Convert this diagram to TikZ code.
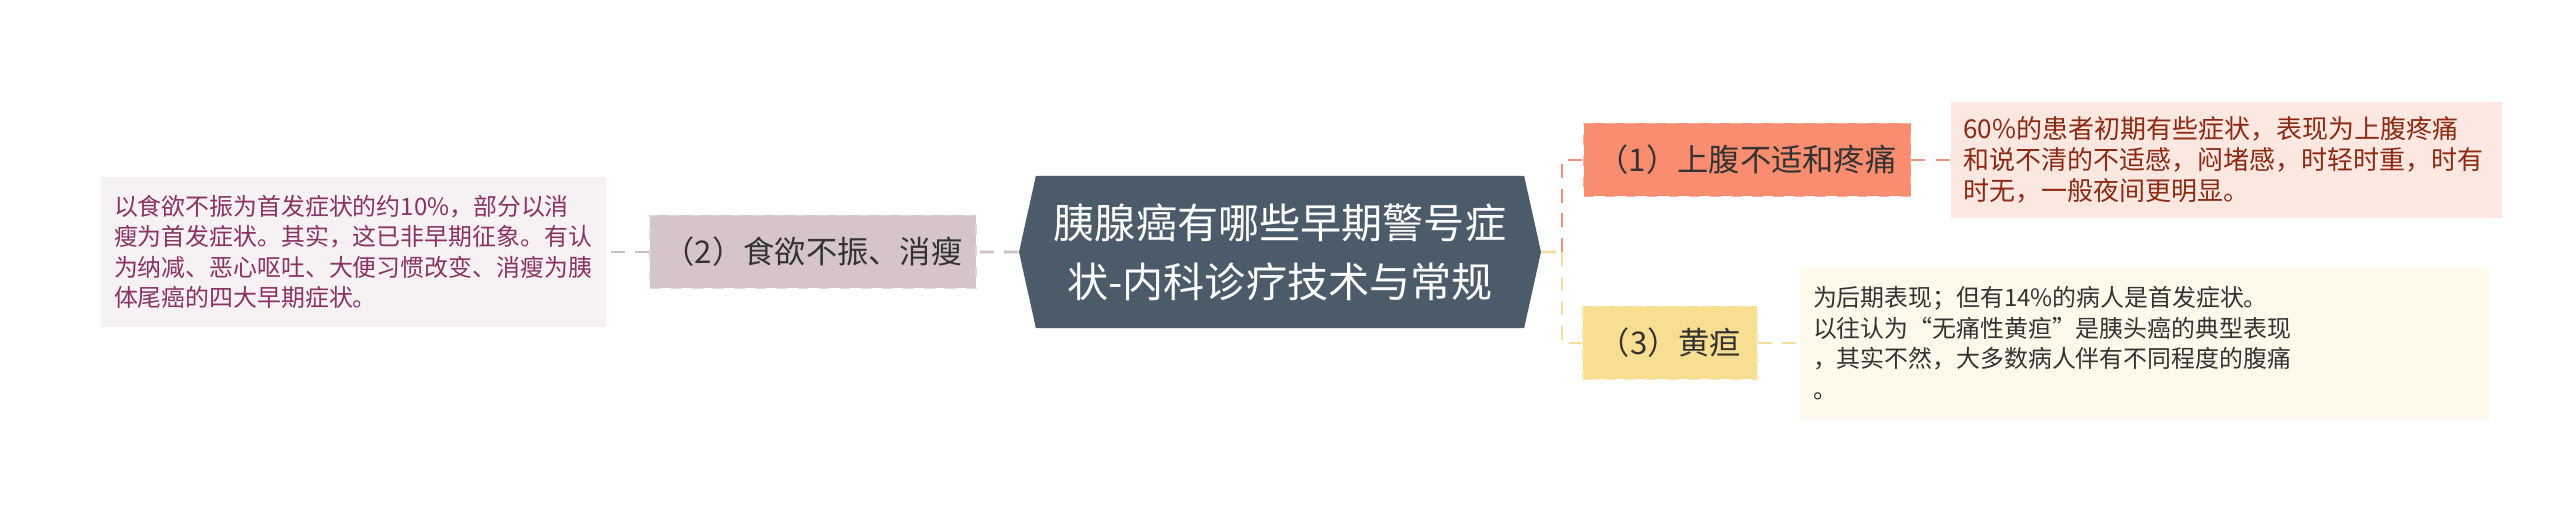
\documentclass[tikz,border=0pt]{standalone}
\usepackage{fontspec}
\setmainfont{Noto Sans CJK SC}
\usepackage{xcolor}
\usepackage{tikz}
\usetikzlibrary{positioning}
\usetikzlibrary{shapes.symbols}
\definecolor{topicfill}{HTML}{4B5B6A}
\definecolor{onefill}{HTML}{FA8C6F}
\definecolor{twofill}{HTML}{D6C4CC}
\definecolor{threefill}{HTML}{F8DE91}
\definecolor{oneleaf}{HTML}{FDE7E1}
\definecolor{twoleaf}{HTML}{F6F1F3}
\definecolor{threeleaf}{HTML}{FEF9EA}
\definecolor{onetext}{HTML}{8C2A12}
\definecolor{twotext}{HTML}{8A3263}
\definecolor{darktext}{HTML}{333333}
\definecolor{oneline}{HTML}{F4907A}
\definecolor{twoline}{HTML}{CDBDC5}
\definecolor{threeline}{HTML}{F5DE9C}
\tikzstyle{topic}=[signal,signal to=west and east,signal pointer angle=155,fill=topicfill,text=white,inner sep=0pt,minimum width=5.22cm,minimum height=1.52cm,align=center,font=\fontsize{11.7pt}{16.8pt}\selectfont]
\tikzstyle{branch}=[draw=white!60!black,dashed,inner sep=0pt,minimum height=0.73cm,text=darktext,font=\fontsize{8.9pt}{10pt}\selectfont]
\tikzstyle{branchA}=[branch,fill=onefill,draw=onefill!70!white,minimum width=3.27cm]
\tikzstyle{branchB}=[branch,fill=twofill,draw=twofill!70!white,minimum width=3.26cm]
\tikzstyle{branchC}=[branch,fill=threefill,draw=threefill!70!white,minimum width=1.74cm]
\tikzstyle{leaf}=[inner sep=0pt,align=left,font=\fontsize{6.8pt}{8.7pt}\selectfont]
\tikzstyle{leafA}=[leaf,fill=oneleaf,text=onetext,text width=5.25cm,minimum width=5.51cm,minimum height=1.16cm,font=\fontsize{7.4pt}{8.8pt}\selectfont]
\tikzstyle{leafB}=[leaf,fill=twoleaf,text=twotext,text width=4.79cm,minimum width=5.05cm,minimum height=1.49cm]
\tikzstyle{leafC}=[leaf,fill=threeleaf,text=darktext,text width=6.63cm,minimum width=6.89cm,minimum height=1.52cm]
\tikzstyle{link}=[draw,line width=0.8pt,dash pattern=on 4pt off 3pt]
\begin{document}
\begin{tikzpicture}[scale=1.]
    \useasboundingbox (0,0) rectangle (25.6,-5.2);
    % the central topic
    \node[topic] (root) at (12.80,-2.52) {胰腺癌有哪些早期警号症\\状-内科诊疗技术与常规};
    \coordinate (fork) at (15.62,-2.52);

    % First we draw the branches and their notes
    \foreach \pos/\name/\kind/\txt in {{(17.47,-1.60)/one/branchA/（1）上腹不适和疼痛},
    {(8.13,-2.52)/two/branchB/（2）食欲不振、消瘦},
    {(16.70,-3.43)/three/branchC/（3）黄疸},
    {(22.26,-1.60)/oneNote/leafA/{60\%的患者初期有些症状，表现为上腹疼痛\\和说不清的不适感，闷堵感，时轻时重，时有\\时无，一般夜间更明显。}},
    {(3.535,-2.52)/twoNote/leafB/{以食欲不振为首发症状的约10\%，部分以消\\瘦为首发症状。其实，这已非早期征象。有认\\为纳减、恶心呕吐、大便习惯改变、消瘦为胰\\体尾癌的四大早期症状。}},
    {(21.445,-3.43)/threeNote/leafC/{为后期表现；但有14\%的病人是首发症状。\\以往认为“无痛性黄疸”是胰头癌的典型表现\\，其实不然，大多数病人伴有不同程度的腹痛\\。}}}
        \node[\kind] (\name) at \pos {\txt};

    % Connect them
    \foreach \source/\dest/\colour in {root/two/twoline, two/twoNote/twoline, one/oneNote/oneline, three/threeNote/threeline}
        \path[link,draw=\colour] (\source) -- (\dest);
    \path[link,draw=threeline] (root) -- (fork);
    \path[link,draw=oneline] (fork) |- (one);
    \path[link,draw=threeline] (fork) |- (three);
\end{tikzpicture}
\end{document}
